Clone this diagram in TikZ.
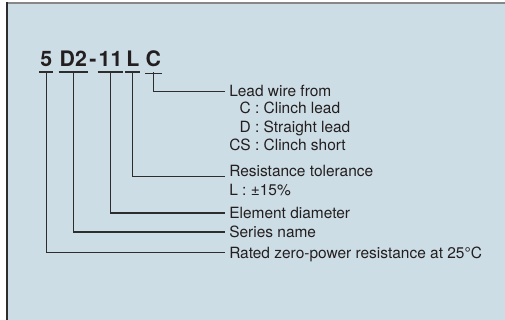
\documentclass[tikz,border=0pt]{standalone}
\usepackage{fontspec}
\setmainfont{TeX Gyre Heros}
\usepackage{tikz}
\usepackage{xcolor}

\definecolor{panelbg}{RGB}{205,221,229}
\definecolor{inkgray}{RGB}{45,45,45}
\definecolor{textink}{RGB}{35,31,32}
\definecolor{topgray}{RGB}{135,135,135}

\tikzset{
  codepart/.style={anchor=base, inner xsep=0.6pt, inner ysep=3.75pt, font=\fontsize{16}{18}\selectfont\bfseries, text=textink},
  labeltext/.style={inner xsep=3pt, inner ysep=0pt, font=\fontsize{11.6}{13.9}\selectfont, text=textink},
  leadlabel/.style={labeltext, anchor=west, text height=8.3pt, text depth=0pt},
  underbar/.style={line width=1.6pt, inkgray},
  leader/.style={line width=0.8pt, inkgray}
}

\begin{document}
\begin{tikzpicture}[x=0.75pt,y=0.75pt,yscale=-1,xscale=1]
\useasboundingbox (0,0) rectangle (505,320);

%Panel
\fill [panelbg] (7,3) rectangle (505,320);
\draw [line width=1.4pt, topgray] (7,2.6) -- (505,2.6);
\draw [line width=1.6pt, inkgray] (7.4,2) -- (7.4,320);

% Text Node
\node [codepart] (n5) at (46.3,66.7) {5};
% Text Node
\node [codepart] (nD2) at (73.3,66.7) {D2};
% Text Node
\node [codepart] (nDash) at (93,66.7) {-};
% Text Node
\node [codepart] (n11) at (110.5,66.7) {11};
% Text Node
\node [codepart] (nL) at (132.8,66.7) {L};
% Text Node
\node [codepart] (nC) at (153.3,66.7) {C};

%Underlines
\draw [underbar] (n5.south west) -- (n5.south east);
\draw [underbar] (nD2.south west) -- (nD2.south east);
\draw [underbar] (n11.south west) -- (n11.south east);
\draw [underbar] (nL.south west) -- (nL.south east);
\draw [inkgray, line width=0.6pt, double=panelbg, double distance=1.3pt] (nC.south west) -- (nC.south east);

% Text Node
\node [leadlabel] (leadwire) at (225,91.3) {Lead wire from};
% Text Node
\node [labeltext, anchor=base west] (leadtypes) at (225,113.8) {\begin{tabular}[t]{@{}r@{ : }l@{}}
C & Clinch lead\\
D & Straight lead\\
CS & Clinch short
\end{tabular}};
% Text Node
\node [leadlabel] (tol) at (225,170.5) {Resistance tolerance};
% Text Node
\node [labeltext, anchor=base west] (tolval) at (225,195) {L : ±15\%};
% Text Node
\node [leadlabel] (diam) at (225,213) {Element diameter};
% Text Node
\node [leadlabel] (series) at (225,232) {Series name};
% Text Node
\node [leadlabel] (rated) at (225,252.7) {Rated zero-power resistance at 25°C};

%Straight Lines
\draw [leader] (nC.south) |- (leadwire.west);
\draw [leader] (nL.south) |- (tol.base west);
\draw [leader] (n11.south) |- (diam.west);
\draw [leader] (nD2.south) |- (series.west);
\draw [leader] (n5.south) |- (rated.west);

\end{tikzpicture}
\end{document}
